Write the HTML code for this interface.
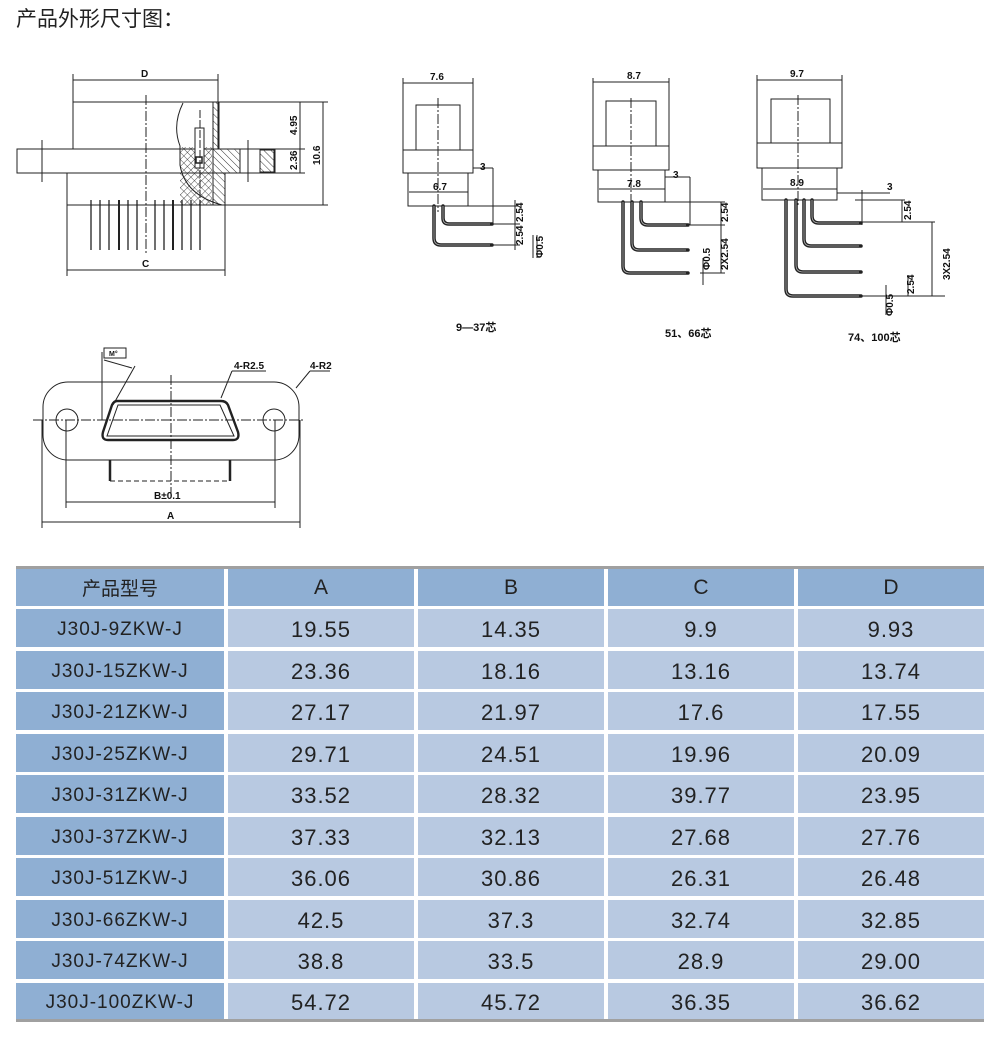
<!DOCTYPE html>
<html><head><meta charset="utf-8">
<style>
html,body{margin:0;padding:0;background:#fff;}
body{width:1000px;height:1037px;position:relative;overflow:hidden;font-family:"Liberation Sans","Noto Sans CJK SC",sans-serif;}
.t{position:absolute;left:16px;top:3px;font-size:21px;color:#222;font-family:"Liberation Sans","Noto Sans CJK SC",sans-serif;}
.c{position:absolute;display:flex;align-items:center;justify-content:center;color:#222;box-sizing:border-box;}
.h{background:#8fafd3;font-size:21px;}
.k{background:#8fafd3;font-size:19px;letter-spacing:1px;padding-top:4px;}
.v{background:#b8c9e1;font-size:22px;letter-spacing:1px;padding-top:4px;}
.g{position:absolute;left:16px;width:968px;height:3px;background:#a0a0a0;}
svg{position:absolute;left:0;top:0;}
svg text{font-family:"Liberation Sans","Noto Sans CJK SC",sans-serif;font-weight:bold;fill:#111;}
</style></head><body>
<div class="t">产品外形尺寸图：</div>

<svg width="1000" height="560" viewBox="0 0 1000 560">
<defs>
<pattern id="hx" width="5" height="5" patternUnits="userSpaceOnUse" patternTransform="rotate(45)"><path d="M0 0V5M0 0H5" stroke="#222" stroke-width="0.8"/></pattern>
<pattern id="hd" width="5" height="5" patternUnits="userSpaceOnUse" patternTransform="rotate(-45)"><path d="M0 0V5" stroke="#222" stroke-width="0.9"/></pattern>
</defs>
<g stroke="#222" stroke-width="1" fill="none">
<line x1="73" y1="74" x2="73" y2="149"/><line x1="218" y1="74" x2="218" y2="102"/>
<line x1="73" y1="80" x2="218" y2="80"/>
<rect x="73" y="102" width="145" height="47"/>
<line x1="218" y1="102" x2="328" y2="102"/>
<rect x="17" y="149" width="258" height="24"/>
<line x1="275" y1="149" x2="305" y2="149"/>
<rect x="67" y="173" width="158" height="32"/>
<line x1="225" y1="205" x2="328" y2="205"/>
<line x1="67" y1="205" x2="67" y2="276"/><line x1="225" y1="205" x2="225" y2="276"/>
<line x1="67" y1="270" x2="225" y2="270"/>
<line x1="300" y1="102" x2="300" y2="173"/><line x1="323" y1="102" x2="323" y2="205"/>
<line x1="275" y1="173" x2="305" y2="173"/>
<line x1="146" y1="95" x2="146" y2="255" stroke-dasharray="10,2,2,2"/>
<line x1="42" y1="140" x2="42" y2="182"/><line x1="248" y1="140" x2="248" y2="182"/>
<path d="M183 103 Q172 125 180 146 L180 165 Q185 195 222 205" />
<rect x="180" y="147" width="32" height="58" fill="url(#hx)" stroke="none"/>
<rect x="213" y="102" width="6" height="47" fill="url(#hd)"/>
<path d="M213 149 H240 V173 H225 V205 H213 Z" fill="url(#hd)"/>
<rect x="260" y="150" width="14" height="22" fill="url(#hd)"/>
<rect x="195" y="128" width="9" height="40" fill="#fff"/>
<rect x="196" y="157" width="6" height="6" stroke-width="1.5"/>
<line x1="200" y1="110" x2="200" y2="205" stroke-dasharray="8,2"/>
<g stroke-width="1.3">
<line x1="91" y1="200" x2="91" y2="250"/><line x1="100" y1="200" x2="100" y2="250"/><line x1="109" y1="200" x2="109" y2="250"/><line x1="119" y1="200" x2="119" y2="250" stroke-width="2"/><line x1="128" y1="200" x2="128" y2="250"/><line x1="137" y1="200" x2="137" y2="250"/><line x1="155" y1="200" x2="155" y2="250"/><line x1="164" y1="200" x2="164" y2="250"/><line x1="173" y1="200" x2="173" y2="250" stroke-width="2"/><line x1="182" y1="200" x2="182" y2="250"/><line x1="191" y1="200" x2="191" y2="250"/><line x1="200" y1="200" x2="200" y2="250"/>
</g>

<line x1="403" y1="78" x2="403" y2="150"/><line x1="473" y1="78" x2="473" y2="150"/>
<line x1="403" y1="83" x2="473" y2="83"/>
<rect x="416" y="105" width="44" height="45"/>
<rect x="403" y="150" width="70" height="23"/>
<rect x="408" y="173" width="60" height="33"/>
<line x1="409" y1="192" x2="468" y2="192"/>
<line x1="438" y1="98" x2="438" y2="212" stroke-dasharray="10,2,2,2"/>
<line x1="473" y1="168" x2="493" y2="168"/><line x1="493" y1="168" x2="493" y2="225"/>
<line x1="468" y1="206" x2="518" y2="206"/><line x1="488" y1="224" x2="520" y2="224"/><line x1="493" y1="245" x2="520" y2="245"/>
<line x1="515" y1="200" x2="515" y2="250"/><line x1="533" y1="235" x2="533" y2="258"/><line x1="537" y1="235" x2="537" y2="258"/>
<g stroke-width="3.5" stroke-linecap="round">
<path d="M443 206 V218 Q443 224 449 224 H492"/>
<path d="M434 206 V238 Q434 245 441 245 H492"/>
</g>
<g stroke="#bbb" stroke-width="0.8">
<path d="M443 206 V218 Q443 224 449 224 H490"/>
<path d="M434 206 V238 Q434 245 441 245 H490"/>
</g>

<line x1="593" y1="78" x2="593" y2="146"/><line x1="669" y1="78" x2="669" y2="146"/>
<line x1="593" y1="82" x2="669" y2="82"/>
<rect x="606" y="101" width="50" height="45"/>
<rect x="593" y="146" width="76" height="24"/>
<rect x="598" y="170" width="67" height="32"/>
<line x1="599" y1="189" x2="665" y2="189"/>
<line x1="631" y1="98" x2="631" y2="210" stroke-dasharray="10,2,2,2"/>
<line x1="665" y1="177" x2="690" y2="177"/><line x1="690" y1="177" x2="690" y2="225"/>
<line x1="665" y1="202" x2="725" y2="202"/><line x1="690" y1="225" x2="725" y2="225"/><line x1="700" y1="273" x2="725" y2="273"/>
<line x1="721" y1="202" x2="721" y2="273"/><line x1="703" y1="258" x2="703" y2="285"/>
<g stroke-width="3.5" stroke-linecap="round">
<path d="M641 202 V218 Q641 225 648 225 H688"/>
<path d="M632 202 V243 Q632 250 639 250 H688"/>
<path d="M623 202 V266 Q623 273 630 273 H688"/>
</g>
<g stroke="#bbb" stroke-width="0.8">
<path d="M641 202 V218 Q641 225 648 225 H686"/>
<path d="M632 202 V243 Q632 250 639 250 H686"/>
<path d="M623 202 V266 Q623 273 630 273 H686"/>
</g>

<line x1="757" y1="75" x2="757" y2="143"/><line x1="842" y1="75" x2="842" y2="143"/>
<line x1="757" y1="80" x2="842" y2="80"/>
<rect x="771" y="99" width="59" height="44"/>
<rect x="757" y="143" width="85" height="25"/>
<rect x="762" y="168" width="75" height="32"/>
<line x1="763" y1="189" x2="837" y2="189"/>
<line x1="798" y1="95" x2="798" y2="205" stroke-dasharray="10,2,2,2"/>
<line x1="837" y1="193" x2="890" y2="193"/><line x1="862" y1="190" x2="862" y2="225"/>
<line x1="855" y1="200" x2="905" y2="200"/><line x1="862" y1="222" x2="935" y2="222"/>
<line x1="862" y1="296" x2="945" y2="296"/><line x1="902" y1="200" x2="902" y2="222"/>
<line x1="932" y1="222" x2="932" y2="296"/><line x1="908" y1="275" x2="908" y2="296"/>
<line x1="886" y1="285" x2="886" y2="315"/>
<g stroke-width="3.5" stroke-linecap="round">
<path d="M812 200 V216 Q812 223 819 223 H861"/>
<path d="M804 200 V239 Q804 246 811 246 H861"/>
<path d="M796 200 V265 Q796 272 803 272 H861"/>
<path d="M786 200 V289 Q786 296 793 296 H861"/>
</g>
<g stroke="#bbb" stroke-width="0.8">
<path d="M812 200 V216 Q812 223 819 223 H859"/>
<path d="M804 200 V239 Q804 246 811 246 H859"/>
<path d="M796 200 V265 Q796 272 803 272 H859"/>
<path d="M786 200 V289 Q786 296 793 296 H859"/>
</g>

<rect x="43" y="382" width="256" height="78" rx="25"/>
<circle cx="67" cy="420" r="11"/><circle cx="274" cy="420" r="11"/>
<path d="M117 401 H221 Q226 401 228 405 L238 432 Q240 440 233 440 H108 Q101 440 103 432 L112 405 Q114 401 117 401 Z" stroke-width="2.4"/>
<path d="M118 405 H220 L234 436 H107 Z" stroke-width="1"/>
<line x1="33" y1="420" x2="305" y2="420" stroke-dasharray="10,2,2,2"/>
<line x1="171" y1="375" x2="171" y2="498" stroke-dasharray="10,2,2,2"/>
<line x1="102" y1="352" x2="102" y2="420"/><line x1="104" y1="360" x2="132" y2="368"/>
<line x1="135" y1="366" x2="113" y2="405"/>
<line x1="232" y1="371" x2="221" y2="398"/><line x1="232" y1="371" x2="266" y2="371"/>
<line x1="310" y1="371" x2="296" y2="388"/><line x1="310" y1="371" x2="330" y2="371"/>
<rect x="104" y="348" width="22" height="10"/>
<line x1="110" y1="460" x2="110" y2="481" stroke-width="2.5"/><line x1="230" y1="460" x2="230" y2="481" stroke-width="2.5"/>
<line x1="110" y1="481" x2="230" y2="481" stroke-dasharray="5,3"/>
<line x1="66" y1="420" x2="66" y2="508"/><line x1="275" y1="420" x2="275" y2="508"/>
<line x1="66" y1="502" x2="275" y2="502"/>
<line x1="42" y1="420" x2="42" y2="528"/><line x1="300" y1="420" x2="300" y2="528"/>
<line x1="42" y1="522" x2="300" y2="522"/>
</g>
<g font-size="10">
<text x="141" y="77">D</text>
<text x="142" y="267">C</text>
<text transform="translate(297,135) rotate(-90)">4.95</text>
<text transform="translate(297,170) rotate(-90)">2.36</text>
<text transform="translate(320,165) rotate(-90)">10.6</text>
<text x="430" y="80">7.6</text>
<text x="433" y="190">6.7</text>
<text x="480" y="170">3</text>
<text transform="translate(523,222) rotate(-90)">2.54</text>
<text transform="translate(523,245) rotate(-90)">2.54</text>
<text transform="translate(543,258) rotate(-90)">Φ0.5</text>
<text x="627" y="79">8.7</text>
<text x="627" y="187">7.8</text>
<text x="673" y="178">3</text>
<text transform="translate(728,222) rotate(-90)">2.54</text>
<text transform="translate(728,270) rotate(-90)">2X2.54</text>
<text transform="translate(710,270) rotate(-90)">Φ0.5</text>
<text x="790" y="77">9.7</text>
<text x="790" y="186">8.9</text>
<text x="887" y="190">3</text>
<text transform="translate(911,220) rotate(-90)">2.54</text>
<text transform="translate(950,280) rotate(-90)">3X2.54</text>
<text transform="translate(914,294) rotate(-90)">2.54</text>
<text transform="translate(893,316) rotate(-90)">Φ0.5</text>
<text x="456" y="331" font-size="11">9—37芯</text>
<text x="665" y="337" font-size="11">51、66芯</text>
<text x="848" y="341" font-size="11">74、100芯</text>
<text x="234" y="369">4-R2.5</text>
<text x="310" y="369">4-R2</text>
<text x="109" y="356" font-size="7">M°</text>
<text x="154" y="499">B±0.1</text>
<text x="167" y="519">A</text>
</g>
</svg>

<div class="g" style="top:566px"></div>
<div class="g" style="top:1019px"></div>

<div class="c h" style="left:16px;top:569px;width:208px;height:37px;font-size:19px">产品型号</div>
<div class="c h" style="left:228px;top:569px;width:186px;height:37px">A</div>
<div class="c h" style="left:418px;top:569px;width:186px;height:37px">B</div>
<div class="c h" style="left:608px;top:569px;width:186px;height:37px">C</div>
<div class="c h" style="left:798px;top:569px;width:186px;height:37px">D</div>

<div class="c k" style="left:16px;top:609px;width:208px;height:38px">J30J-9ZKW-J</div><div class="c v" style="left:228px;top:609px;width:186px;height:38px">19.55</div><div class="c v" style="left:418px;top:609px;width:186px;height:38px">14.35</div><div class="c v" style="left:608px;top:609px;width:186px;height:38px">9.9</div><div class="c v" style="left:798px;top:609px;width:186px;height:38px">9.93</div>
<div class="c k" style="left:16px;top:651px;width:208px;height:38px">J30J-15ZKW-J</div><div class="c v" style="left:228px;top:651px;width:186px;height:38px">23.36</div><div class="c v" style="left:418px;top:651px;width:186px;height:38px">18.16</div><div class="c v" style="left:608px;top:651px;width:186px;height:38px">13.16</div><div class="c v" style="left:798px;top:651px;width:186px;height:38px">13.74</div>
<div class="c k" style="left:16px;top:692px;width:208px;height:38px">J30J-21ZKW-J</div><div class="c v" style="left:228px;top:692px;width:186px;height:38px">27.17</div><div class="c v" style="left:418px;top:692px;width:186px;height:38px">21.97</div><div class="c v" style="left:608px;top:692px;width:186px;height:38px">17.6</div><div class="c v" style="left:798px;top:692px;width:186px;height:38px">17.55</div>
<div class="c k" style="left:16px;top:734px;width:208px;height:38px">J30J-25ZKW-J</div><div class="c v" style="left:228px;top:734px;width:186px;height:38px">29.71</div><div class="c v" style="left:418px;top:734px;width:186px;height:38px">24.51</div><div class="c v" style="left:608px;top:734px;width:186px;height:38px">19.96</div><div class="c v" style="left:798px;top:734px;width:186px;height:38px">20.09</div>
<div class="c k" style="left:16px;top:775px;width:208px;height:38px">J30J-31ZKW-J</div><div class="c v" style="left:228px;top:775px;width:186px;height:38px">33.52</div><div class="c v" style="left:418px;top:775px;width:186px;height:38px">28.32</div><div class="c v" style="left:608px;top:775px;width:186px;height:38px">39.77</div><div class="c v" style="left:798px;top:775px;width:186px;height:38px">23.95</div>
<div class="c k" style="left:16px;top:817px;width:208px;height:38px">J30J-37ZKW-J</div><div class="c v" style="left:228px;top:817px;width:186px;height:38px">37.33</div><div class="c v" style="left:418px;top:817px;width:186px;height:38px">32.13</div><div class="c v" style="left:608px;top:817px;width:186px;height:38px">27.68</div><div class="c v" style="left:798px;top:817px;width:186px;height:38px">27.76</div>
<div class="c k" style="left:16px;top:858px;width:208px;height:38px">J30J-51ZKW-J</div><div class="c v" style="left:228px;top:858px;width:186px;height:38px">36.06</div><div class="c v" style="left:418px;top:858px;width:186px;height:38px">30.86</div><div class="c v" style="left:608px;top:858px;width:186px;height:38px">26.31</div><div class="c v" style="left:798px;top:858px;width:186px;height:38px">26.48</div>
<div class="c k" style="left:16px;top:900px;width:208px;height:38px">J30J-66ZKW-J</div><div class="c v" style="left:228px;top:900px;width:186px;height:38px">42.5</div><div class="c v" style="left:418px;top:900px;width:186px;height:38px">37.3</div><div class="c v" style="left:608px;top:900px;width:186px;height:38px">32.74</div><div class="c v" style="left:798px;top:900px;width:186px;height:38px">32.85</div>
<div class="c k" style="left:16px;top:941px;width:208px;height:38px">J30J-74ZKW-J</div><div class="c v" style="left:228px;top:941px;width:186px;height:38px">38.8</div><div class="c v" style="left:418px;top:941px;width:186px;height:38px">33.5</div><div class="c v" style="left:608px;top:941px;width:186px;height:38px">28.9</div><div class="c v" style="left:798px;top:941px;width:186px;height:38px">29.00</div>
<div class="c k" style="left:16px;top:983px;width:208px;height:36px">J30J-100ZKW-J</div><div class="c v" style="left:228px;top:983px;width:186px;height:36px">54.72</div><div class="c v" style="left:418px;top:983px;width:186px;height:36px">45.72</div><div class="c v" style="left:608px;top:983px;width:186px;height:36px">36.35</div><div class="c v" style="left:798px;top:983px;width:186px;height:36px">36.62</div>
</body></html>
